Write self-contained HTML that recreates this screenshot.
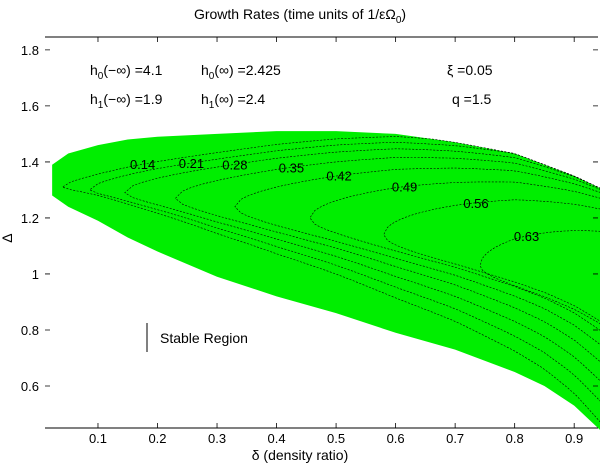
<!DOCTYPE html>
<html><head><meta charset="utf-8"><style>
body{margin:0;background:#fff;}
svg{display:block;font-family:"Liberation Sans",Arial,sans-serif;}
</style></head><body>
<svg id="chart" width="600" height="465" viewBox="0 0 600 465">
<text x="300" y="19" font-size="14" text-anchor="middle">Growth Rates (time units of 1/εΩ<tspan font-size="10" dy="4">0</tspan><tspan dy="-4">)</tspan></text>
<g id="plot"></g>
<g id="axes"></g>
<g font-size="14">
<text x="90" y="75">h<tspan font-size="10" dy="4">0</tspan><tspan dy="-4">(−∞) =4.1</tspan></text>
<text x="201" y="75">h<tspan font-size="10" dy="4">0</tspan><tspan dy="-4">(∞) =2.425</tspan></text>
<text x="90" y="104">h<tspan font-size="10" dy="4">1</tspan><tspan dy="-4">(−∞) =1.9</tspan></text>
<text x="201" y="104">h<tspan font-size="10" dy="4">1</tspan><tspan dy="-4">(∞) =2.4</tspan></text>
<text x="447" y="75">ξ =0.05</text>
<text x="452" y="104">q =1.5</text>
<line x1="147" y1="323" x2="147" y2="352" stroke="#000" stroke-width="1"/>
<text x="160" y="343">Stable Region</text>
</g>
<text x="300" y="460" font-size="14" text-anchor="middle">δ (density ratio)</text>
<text x="12" y="238" font-size="14" text-anchor="middle" transform="rotate(-90 12 238)">Δ</text>
</svg>
<script>
const xTicks=[0.1,0.2,0.3,0.4,0.5,0.6,0.7,0.8,0.9];
const yTicks=[0.6,0.8,1,1.2,1.4,1.6,1.8];
const yTickLabels=["0.6","0.8","1","1.2","1.4","1.6","1.8"];
const bDelta=[0.023,0.05,0.1,0.15,0.2,0.3,0.4,0.5,0.6,0.7,0.8,0.85,0.9,0.95];
const bUpper=[1.39,1.43,1.46,1.48,1.49,1.5,1.51,1.51,1.5,1.47,1.43,1.39,1.35,1.3];
const bLower=[1.28,1.24,1.19,1.13,1.08,0.99,0.92,0.86,0.79,0.73,0.65,0.6,0.53,0.43];
const levels=[0.14,0.21,0.28,0.35,0.42,0.49,0.56,0.63];
const noseDelta=[0.04,0.086,0.145,0.23,0.33,0.456,0.58,0.742];
const noseDeltaVal=[1.31,1.3,1.29,1.27,1.24,1.2,1.14,1.03];
const labelDelta=[0.175,0.257,0.33,0.425,0.505,0.615,0.735,0.82];
const X0=45,X1=598,Y0=37,Y1=428,DX0=0.011,DX1=0.94,DY0=0.45,DY1=1.846;
function sx(d){return X0+(d-DX0)/(DX1-DX0)*(X1-X0);}
function sy(v){return Y1-(v-DY0)/(DY1-DY0)*(Y1-Y0);}
function interp(arr,d){
 if(d<=bDelta[0])return arr[0];
 for(let i=1;i<bDelta.length;i++){if(d<=bDelta[i]){const t=(d-bDelta[i-1])/(bDelta[i]-bDelta[i-1]);return arr[i-1]+t*(arr[i]-arr[i-1]);}}
 return arr[arr.length-1];
}
const NS="http://www.w3.org/2000/svg";
const plot=document.getElementById('plot'),axes=document.getElementById('axes');
let pts=[];
bDelta.forEach((d,i)=>pts.push(sx(d)+','+sy(bUpper[i])));
for(let i=bDelta.length-1;i>=0;i--)pts.push(sx(bDelta[i])+','+sy(bLower[i]));
const reg=document.createElementNS(NS,'polygon');
reg.setAttribute('points',pts.join(' '));reg.setAttribute('fill','#00ee00');


plot.appendChild(reg);
function branch(k,d,upper){
 const n=noseDelta[k],c=noseDeltaVal[k];
 const t=Math.max(0,(d-n)/(0.95-n));
 const g=(1-0.09*k)*Math.sqrt(t)*0.97;
 if(upper){const U=interp(bUpper,d);return c+(U-c)*Math.min(1,g*1.25);}
 const L=interp(bLower,d);return c-(c-L)*Math.min(1,g);
}
levels.forEach((lv,k)=>{
 const n=noseDelta[k];
 let up=[],lo=[];
 for(let j=0;j<=60;j++){
  const d=n+(0.95-n)*j/60;
  up.push([sx(d),sy(branch(k,d,true))]);
  lo.push([sx(d),sy(branch(k,d,false))]);
 }
 let dstr='M'+up.slice().reverse().map(p=>p[0].toFixed(1)+','+p[1].toFixed(1)).join(' L')+' L'+lo.slice(1).map(p=>p[0].toFixed(1)+','+p[1].toFixed(1)).join(' L');
 const path=document.createElementNS(NS,'path');
 path.setAttribute('d',dstr);path.setAttribute('fill','none');path.setAttribute('stroke','#000');
 path.setAttribute('stroke-width','0.6');path.setAttribute('stroke-dasharray','2,1.5');
 
 
 plot.appendChild(path);
 const ld=labelDelta[k];
 const ly=sy(branch(k,ld,true));
 const t=document.createElementNS(NS,'text');
 t.setAttribute('x',sx(ld));t.setAttribute('y',ly+5);t.setAttribute('font-size','13');
 t.setAttribute('text-anchor','middle');t.textContent=lv.toFixed(2);
 
 
 plot.appendChild(t);
});
const ax=document.createElementNS(NS,'path');
ax.setAttribute('d',`M${X0},${Y1} L${X1},${Y1} M${X0},${Y0} L${X1},${Y0}`);
ax.setAttribute('stroke','#000');ax.setAttribute('stroke-width','1');ax.setAttribute('fill','none');


axes.appendChild(ax);
xTicks.forEach(v=>{
 const x=sx(v);
 const tk=document.createElementNS(NS,'path');
 tk.setAttribute('d',`M${x},${Y1} L${x},${Y1-5} M${x},${Y0} L${x},${Y0+5}`);
 tk.setAttribute('stroke','#000');tk.setAttribute('stroke-width','0.8');
 
 
 axes.appendChild(tk);
 const t=document.createElementNS(NS,'text');
 t.setAttribute('x',x);t.setAttribute('y',443);t.setAttribute('font-size','13');t.setAttribute('text-anchor','middle');
 t.textContent=v.toString();
 
 
 axes.appendChild(t);
});
yTicks.forEach((v,i)=>{
 const y=sy(v);
 const tk=document.createElementNS(NS,'path');
 tk.setAttribute('d',`M${X0},${y} L${X0+5},${y} M${X1},${y} L${X1-5},${y}`);
 tk.setAttribute('stroke','#000');tk.setAttribute('stroke-width','0.8');
 
 
 axes.appendChild(tk);
 const t=document.createElementNS(NS,'text');
 t.setAttribute('x',X0-6);t.setAttribute('y',y+5);t.setAttribute('font-size','13');t.setAttribute('text-anchor','end');
 t.textContent=yTickLabels[i];
 
 
 axes.appendChild(t);
});
</script>
</body></html>
